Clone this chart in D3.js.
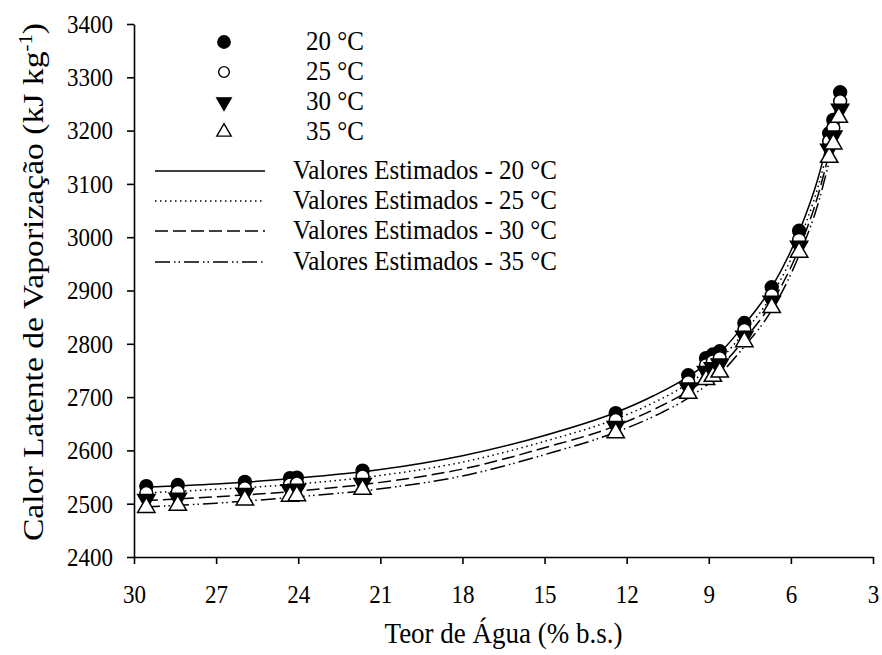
<!DOCTYPE html>
<html>
<head>
<meta charset="utf-8">
<script src="https://cdn.jsdelivr.net/npm/d3@7/dist/d3.min.js"></script>
<style>
  body { margin: 0; background: #fff; }
  svg text { font-family: "Liberation Serif", "Times New Roman", "DejaVu Serif", serif; fill: #000; }
</style>
</head>
<body>
<svg id="chart" width="882" height="655" font-family="Liberation Serif, serif"></svg>
<script>
// Observed values (moisture content % d.b., latent heat kJ/kg), one array per temperature
const obs20 = [
  [29.55, 2533], [28.4, 2535], [25.95, 2541], [24.3, 2548], [24.05, 2549], [21.65, 2562],
  [12.4, 2670], [9.75, 2741], [9.1, 2773], [8.85, 2780], [8.6, 2786], [7.7, 2839],
  [6.7, 2906], [5.7, 3012], [4.6, 3195], [4.45, 3220], [4.2, 3272]
]
const obs25 = [
  [29.55, 2520], [28.4, 2522], [25.95, 2529], [24.3, 2536], [24.05, 2538], [21.65, 2551],
  [12.4, 2657], [9.75, 2728], [9.1, 2760], [8.85, 2767], [8.6, 2773], [7.7, 2826],
  [6.7, 2891], [5.7, 2995], [4.6, 3180], [4.45, 3205], [4.2, 3255]
]
const obs30 = [
  [29.55, 2508], [28.4, 2510], [25.95, 2519], [24.3, 2526], [24.05, 2527], [21.65, 2538],
  [12.4, 2645], [9.75, 2717], [9.1, 2748], [8.85, 2755], [8.6, 2762], [7.7, 2814],
  [6.7, 2880], [5.7, 2983], [4.6, 3165], [4.45, 3190], [4.2, 3240]
]
const obs35 = [
  [29.55, 2493], [28.4, 2497], [25.95, 2507], [24.3, 2514], [24.05, 2515], [21.65, 2527],
  [12.4, 2633], [9.75, 2707], [9.1, 2733], [8.85, 2739], [8.6, 2747], [7.7, 2804],
  [6.7, 2868], [5.7, 2972], [4.6, 3150], [4.45, 3175], [4.25, 3225]
]

// Estimated curves at these moisture contents
const curveX = [29.6, 27, 24, 21, 18, 15, 12.4, 11, 9.7, 8.6, 7.7, 6.7, 5.7, 5, 4.6, 4.2]
const est20 = [2531, 2537, 2548, 2564, 2590, 2628, 2671, 2703, 2740, 2783, 2836, 2906, 3010, 3112, 3192, 3274]
const est25 = [2520, 2527, 2537, 2553, 2578, 2617, 2659, 2690, 2727, 2770, 2822, 2891, 2994, 3096, 3175, 3258]
const est30 = [2506, 2513, 2524, 2540, 2565, 2605, 2646, 2677, 2713, 2756, 2808, 2877, 2979, 3080, 3158, 3242]
const est35 = [2494, 2501, 2513, 2528, 2552, 2592, 2634, 2664, 2700, 2743, 2795, 2863, 2966, 3064, 3142, 3226]

const xTicks = [30, 27, 24, 21, 18, 15, 12, 9, 6, 3]
const yTicks = [2400, 2500, 2600, 2700, 2800, 2900, 3000, 3100, 3200, 3300, 3400]
const tempLabels = ['20 °C', '25 °C', '30 °C', '35 °C']
const estLabels = tempLabels.map(t => 'Valores Estimados - ' + t)

const FONT = '"Liberation Serif", "Times New Roman", serif'

const conf = {
  left: 134,
  right: 873,
  top: 24,
  bottom: 557,
  markerSize: 130,
  // the source picture is a little taller than wide in its glyphs
  stretch: 1.13
}

const svg = d3.select('#chart')

const x = d3.scaleLinear().domain([30, 3]).range([conf.left, conf.right])
const y = d3.scaleLinear().domain([2400, 3400]).range([conf.bottom, conf.top])

// Axes
const xAxis = svg.append('g')
  .attr('transform', `translate(0,${conf.bottom})`)
  .call(d3.axisBottom(x).tickValues(xTicks).tickFormat(d3.format('d'))
    .tickSize(7).tickPadding(17).tickSizeOuter(0))
const yAxis = svg.append('g')
  .attr('transform', `translate(${conf.left},0)`)
  .call(d3.axisLeft(y).tickValues(yTicks).tickFormat(d3.format('d'))
    .tickSize(7).tickPadding(14).tickSizeOuter(0))

;[xAxis, yAxis].forEach(ax => {
  ax.attr('font-family', FONT).attr('font-size', 23)
  ax.select('.domain').attr('stroke', '#000').attr('stroke-width', 1.6)
  ax.selectAll('.tick line').attr('stroke', '#000').attr('stroke-width', 1.6)
  ax.selectAll('.tick text')
    .attr('fill', '#000')
    .attr('transform', `scale(1,${conf.stretch})`)
})

// Axis titles
svg.append('text')
  .attr('transform', `translate(${(conf.left + conf.right) / 2},643) scale(1,${conf.stretch})`)
  .attr('text-anchor', 'middle')
  .attr('font-family', FONT)
  .attr('font-size', 27)
  .text('Teor de Água (% b.s.)')

const yTitle = svg.append('text')
  .attr('transform', `translate(43,282) rotate(-90) scale(1.16,1)`)
  .attr('text-anchor', 'middle')
  .attr('font-family', FONT)
  .attr('font-size', 29)
yTitle.append('tspan').text('Calor Latente de Vaporização (kJ kg')
yTitle.append('tspan').attr('dy', -11).attr('font-size', 18).text('-1')
yTitle.append('tspan').attr('dy', 11).text(')')

// Series styles
const series = [
  { obs: obs20, est: est20, sym: d3.symbolCircle, fill: '#000', rot: 0, dash: null },
  { obs: obs25, est: est25, sym: d3.symbolCircle, fill: '#fff', rot: 0, dash: '1.5,3.5' },
  { obs: obs30, est: est30, sym: d3.symbolTriangle, fill: '#000', rot: 180, dash: '13,5' },
  { obs: obs35, est: est35, sym: d3.symbolTriangle, fill: '#fff', rot: 0, dash: '15,4,1.5,3,1.5,4' }
]

const line = d3.line()
  .x(d => x(d[0]))
  .y(d => y(d[1]))
  .curve(d3.curveMonotoneX)

// Estimated curves
series.forEach(s => {
  svg.append('path')
    .datum(curveX.map((cx, i) => [cx, s.est[i]]))
    .attr('d', line)
    .attr('fill', 'none')
    .attr('stroke', '#000')
    .attr('stroke-width', 1.5)
    .attr('stroke-dasharray', s.dash)
})

// Observed points
series.forEach(s => {
  svg.append('g')
    .selectAll('path')
    .data(s.obs)
    .join('path')
    .attr('d', d3.symbol().type(s.sym).size(conf.markerSize))
    .attr('transform', d => `translate(${x(d[0])},${y(d[1])}) rotate(${s.rot})`)
    .attr('fill', s.fill)
    .attr('stroke', '#000')
    .attr('stroke-width', 1.5)
})

// Legend: markers
const legend = svg.append('g').attr('font-family', FONT).attr('font-size', 25)
const symRowY = [42, 72, 102, 132]
series.forEach((s, i) => {
  legend.append('path')
    .attr('d', d3.symbol().type(s.sym).size(i === 0 ? 120 : 90))
    .attr('transform', `translate(224,${symRowY[i]}) rotate(${s.rot})`)
    .attr('fill', s.fill)
    .attr('stroke', '#000')
    .attr('stroke-width', 1.4)
  legend.append('text')
    .attr('transform', `translate(306,${symRowY[i] + 8}) scale(1,${conf.stretch})`)
    .text(tempLabels[i])
})

// Legend: lines
const lineRowY = [171, 201, 231, 262]
series.forEach((s, i) => {
  legend.append('line')
    .attr('x1', 155).attr('x2', 265)
    .attr('y1', lineRowY[i]).attr('y2', lineRowY[i])
    .attr('stroke', '#000')
    .attr('stroke-width', 1.5)
    .attr('stroke-dasharray', s.dash)
  legend.append('text')
    .attr('transform', `translate(293,${lineRowY[i] + 8}) scale(1,${conf.stretch})`)
    .text(estLabels[i])
})
</script>
</body>
</html>
